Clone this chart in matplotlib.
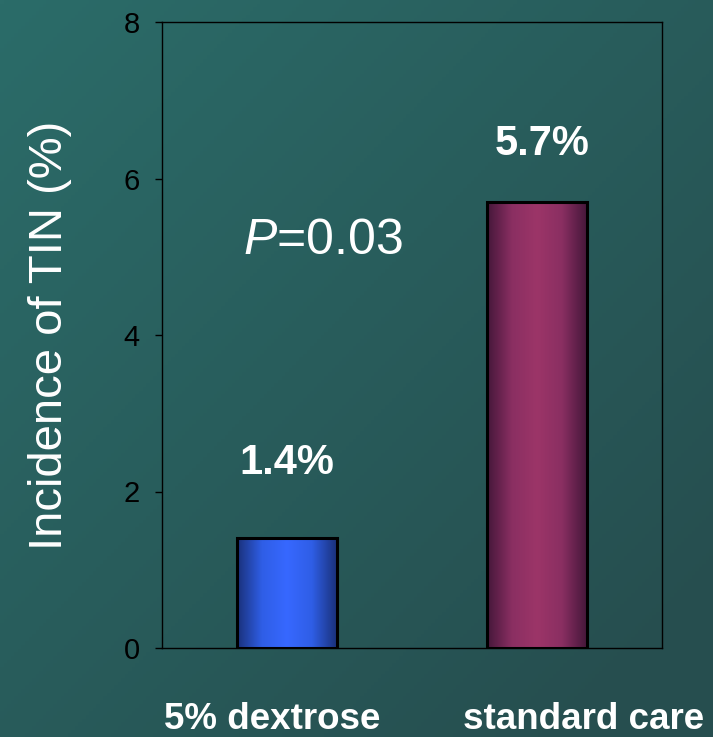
import numpy as np
import matplotlib
matplotlib.use("Agg")
import matplotlib.pyplot as plt
from matplotlib.colors import LinearSegmentedColormap

plt.rcParams["font.family"] = ["Liberation Sans", "DejaVu Sans"]
plt.rcParams["mathtext.fontset"] = "custom"
plt.rcParams["mathtext.it"] = "Liberation Sans:italic"
plt.rcParams["mathtext.rm"] = "Liberation Sans"

# Data
categories = ["5% dextrose", "standard care"]
incidence = [1.4, 5.7]
y_ticks = [0, 2, 4, 6, 8]
p_text = "$P$=0.03"
y_label = "Incidence of TIN (%)"

fig = plt.figure(figsize=(7.13, 7.37), dpi=100)

# Diagonal teal background gradient
bg = fig.add_axes([0, 0, 1, 1], zorder=-10)
gx, gy = np.meshgrid(np.linspace(0, 1, 200), np.linspace(0, 1, 200))
t = np.clip(0.55 * gx + 0.55 * gy, 0, 1)
c0 = np.array([0x2b, 0x6c, 0x69]) / 255
c1 = np.array([0x26, 0x4e, 0x4f]) / 255
img = c0[None, None, :] * (1 - t[..., None]) + c1[None, None, :] * t[..., None]
bg.imshow(img, extent=[0, 1, 0, 1], aspect="auto", origin="upper")
bg.axis("off")

ax = fig.add_axes([162 / 713, 1 - 648 / 737, 500 / 713, 626 / 737])
ax.patch.set_alpha(0)
x = np.arange(len(categories))
bars = ax.bar(x, incidence, width=0.4, color="none", edgecolor="black",
              linewidth=2.2, zorder=3)

# Horizontal cylinder-like shading inside each bar
shades = [
    LinearSegmentedColormap.from_list("b", ["#1a317a", "#2f5ee6", "#3768ff", "#2f5ee6", "#1a317a"]),
    LinearSegmentedColormap.from_list("m", ["#45173a", "#8a2f62", "#9c3568", "#8a2f62", "#45173a"]),
]
grad = np.linspace(0, 1, 256)[None, :]
for bar, cmap in zip(bars, shades):
    x0, y0 = bar.get_x(), bar.get_y()
    w, h = bar.get_width(), bar.get_height()
    im = ax.imshow(grad, cmap=cmap, extent=[x0, x0 + w, y0, y0 + h],
                   aspect="auto", zorder=2, interpolation="bicubic")
    im.set_clip_path(bar)

ax.set_xlim(-0.5, 1.5)
ax.set_ylim(0, 8)
ax.set_yticks(y_ticks)
ax.set_yticklabels([str(v) for v in y_ticks], fontsize=21, color="black")
ax.tick_params(axis="y", direction="out", length=5, width=1, pad=11, color="black")
ax.set_xticks([])
for s in ax.spines.values():
    s.set_color("black")
    s.set_linewidth(1)

ax.set_ylabel(y_label, fontsize=34, color="white", labelpad=37)

# Value labels above bars
offsets = [0.96, 0.74]
for xi, v, off in zip(x, incidence, offsets):
    ax.text(xi + (0.02 if v > 3 else 0), v + off, f"{v:.1f}%", ha="center", va="center",
            fontsize=30, fontweight="bold", color="white")

ax.text(0.144, 5.2, p_text, ha="center", va="center", fontsize=36, color="white")

# Category labels below the axis
cat_x = [-0.06, 1.188]
for cx, name in zip(cat_x, categories):
    ax.text(cx, -0.92, name, ha="center", va="center", fontsize=26.5,
            fontweight="bold", color="white", clip_on=False)

fig.savefig("out.png", dpi=100)
